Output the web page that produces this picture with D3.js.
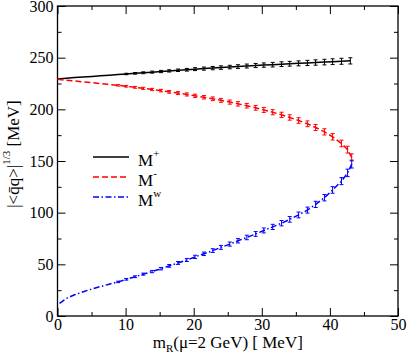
<!DOCTYPE html>
<html lang="en">
<head>
<meta charset="utf-8">
<title>condensate</title>
<style>
  body { margin: 0; background: #fff; }
  text { font-family: "Liberation Serif", "Times New Roman", serif; }
</style>
<script src="https://d3js.org/d3.v7.min.js"></script>
</head>
<body>
<script>
// M+ branch
var xPlus = [0, 1.3, 2.5, 3.8, 5.1, 6.3, 7.6, 8.9, 10.1, 11.4, 12.6, 13.9, 15.2, 16.4, 17.7, 19.0, 20.2, 21.5, 22.8, 24.0, 25.3, 26.5, 27.8, 29.1, 30.3, 31.6, 32.9, 34.1, 35.4, 36.7, 37.9, 39.2, 40.4, 41.7, 43.0];
var yPlus = [229.4, 230.1, 230.7, 231.3, 231.8, 232.4, 233.0, 233.6, 234.2, 234.8, 235.4, 236.0, 236.6, 237.2, 237.8, 238.3, 238.9, 239.4, 239.9, 240.4, 240.9, 241.4, 241.9, 242.4, 242.8, 243.2, 243.7, 244.1, 244.5, 244.9, 245.3, 245.7, 246.1, 246.5, 246.9];
var ePlus = [0, 0.1, 0.2, 0.3, 0.4, 0.4, 0.5, 0.6, 0.7, 0.8, 0.9, 1.0, 1.1, 1.1, 1.2, 1.3, 1.4, 1.5, 1.6, 1.7, 1.7, 1.8, 1.9, 2.0, 2.1, 2.2, 2.3, 2.3, 2.4, 2.5, 2.6, 2.7, 2.8, 2.9, 3.0];

// M- branch
var xMinus = [0, 1.3, 2.5, 3.8, 5.1, 6.3, 7.6, 8.9, 10.1, 11.4, 12.6, 13.9, 15.2, 16.4, 17.7, 19.0, 20.2, 21.5, 22.8, 24.0, 25.3, 26.5, 27.8, 29.1, 30.3, 31.6, 32.9, 34.1, 35.4, 36.7, 37.9, 39.2, 40.4, 41.7, 42.6, 43.2];
var yMinus = [229.0, 228.2, 227.4, 226.6, 225.8, 225.0, 224.1, 223.2, 222.3, 221.3, 220.3, 219.2, 218.1, 216.9, 215.7, 214.4, 213.1, 211.7, 210.2, 208.7, 207.0, 205.3, 203.5, 201.5, 199.4, 197.2, 194.7, 192.1, 189.2, 186.0, 182.4, 178.2, 173.4, 167.0, 161.0, 153.5];
var eMinus = [0, 0.1, 0.2, 0.3, 0.4, 0.5, 0.6, 0.7, 0.8, 0.9, 1.0, 1.1, 1.2, 1.3, 1.4, 1.5, 1.6, 1.7, 1.8, 1.9, 2.0, 2.1, 2.2, 2.3, 2.4, 2.5, 2.5, 2.6, 2.7, 2.8, 2.9, 3.0, 3.1, 3.2, 3.3, 3.4];

// Mw branch
var xW = [0.3, 1.3, 2.5, 3.8, 5.1, 6.3, 7.6, 8.9, 10.1, 11.4, 12.6, 13.9, 15.2, 16.4, 17.7, 19.0, 20.2, 21.5, 22.8, 24.0, 25.3, 26.5, 27.8, 29.1, 30.3, 31.6, 32.9, 34.1, 35.4, 36.7, 37.9, 39.2, 40.4, 41.7, 42.6, 43.2];
var yW = [12.3, 17.0, 20.5, 23.5, 26.3, 28.5, 30.8, 33.0, 35.5, 38.0, 40.5, 43.0, 45.8, 48.5, 51.3, 54.2, 57.2, 60.2, 63.3, 66.4, 69.6, 72.8, 76.0, 79.4, 82.8, 86.2, 89.8, 93.5, 97.8, 102.5, 108.0, 114.5, 122.0, 130.5, 138.5, 147.0];
var eW = [0, 0.1, 0.2, 0.3, 0.4, 0.5, 0.6, 0.7, 0.8, 0.9, 1.0, 1.1, 1.2, 1.3, 1.4, 1.5, 1.6, 1.7, 1.8, 1.9, 2.0, 2.1, 2.2, 2.3, 2.4, 2.5, 2.6, 2.7, 2.8, 2.9, 3.0, 3.1, 3.2, 3.4, 3.6, 3.8];

var xMajor = [0, 10, 20, 30, 40, 50];
var xMinor = [5, 15, 25, 35, 45];
var yMajor = [0, 50, 100, 150, 200, 250, 300];
var yMinor = [25, 75, 125, 175, 225, 275];

var w = 407, h = 357;
var pLeft = 57.5, pRight = 398, pTop = 6, pBottom = 316;

var svg = d3.select("body").append("svg")
    .attr("width", w)
    .attr("height", h);

var x = d3.scaleLinear().domain([0, 50]).range([pLeft, pRight]);
var y = d3.scaleLinear().domain([0, 300]).range([pBottom, pTop]);

function styleAxis(g) {
    g.attr("font-family", "Liberation Serif").attr("font-size", 16);
    g.select(".domain").remove();
    g.selectAll("line").attr("stroke", "#000").attr("stroke-width", 1);
    g.selectAll("text").attr("fill", "#000");
}

// inward ticks on all four sides
svg.append("g").attr("transform", "translate(0," + pBottom + ")")
    .call(d3.axisBottom(x).tickValues(xMajor).tickSizeInner(-8).tickPadding(3).tickFormat(d3.format("d")))
    .call(styleAxis);
svg.append("g").attr("transform", "translate(0," + pBottom + ")")
    .call(d3.axisBottom(x).tickValues(xMinor).tickSizeInner(-4).tickFormat(""))
    .call(styleAxis);
svg.append("g").attr("transform", "translate(0," + pTop + ")")
    .call(d3.axisTop(x).tickValues(xMajor).tickSizeInner(-8).tickFormat(""))
    .call(styleAxis);
svg.append("g").attr("transform", "translate(0," + pTop + ")")
    .call(d3.axisTop(x).tickValues(xMinor).tickSizeInner(-4).tickFormat(""))
    .call(styleAxis);
svg.append("g").attr("transform", "translate(" + pLeft + ",0)")
    .call(d3.axisLeft(y).tickValues(yMajor).tickSizeInner(-8).tickPadding(4).tickFormat(d3.format("d")))
    .call(styleAxis);
svg.append("g").attr("transform", "translate(" + pLeft + ",0)")
    .call(d3.axisLeft(y).tickValues(yMinor).tickSizeInner(-4).tickFormat(""))
    .call(styleAxis);
svg.append("g").attr("transform", "translate(" + pRight + ",0)")
    .call(d3.axisRight(y).tickValues(yMajor).tickSizeInner(-8).tickFormat(""))
    .call(styleAxis);
svg.append("g").attr("transform", "translate(" + pRight + ",0)")
    .call(d3.axisRight(y).tickValues(yMinor).tickSizeInner(-4).tickFormat(""))
    .call(styleAxis);

svg.append("rect")
    .attr("x", pLeft).attr("y", pTop)
    .attr("width", pRight - pLeft).attr("height", pBottom - pTop)
    .attr("fill", "none").attr("stroke", "#000").attr("stroke-width", 1.3);

var series = [
    { xs: xPlus, ys: yPlus, es: ePlus, color: "#000", dash: null, width: 1.5 },
    { xs: xMinus, ys: yMinus, es: eMinus, color: "#ff0000", dash: "6,3", width: 1.5 },
    { xs: xW, ys: yW, es: eW, color: "#0000ff", dash: "6,2.5,1.5,2.5", width: 1.5 }
];

var line = d3.line().x(d => x(d[0])).y(d => y(d[1]));

series.forEach(function (s) {
    var pts = s.xs.map((v, i) => [v, s.ys[i], s.es[i]]);
    svg.append("path")
        .attr("d", line(pts))
        .attr("fill", "none")
        .attr("stroke", s.color)
        .attr("stroke-width", s.width)
        .attr("stroke-dasharray", s.dash);
    var bars = svg.append("g").attr("stroke", s.color).attr("stroke-width", 1);
    pts.filter(d => d[2] > 0.6).forEach(function (d) {
        var cx = x(d[0]);
        bars.append("line").attr("x1", cx).attr("x2", cx)
            .attr("y1", y(d[1] - d[2])).attr("y2", y(d[1] + d[2]));
        bars.append("line").attr("x1", cx - 2).attr("x2", cx + 2)
            .attr("y1", y(d[1] - d[2])).attr("y2", y(d[1] - d[2]));
        bars.append("line").attr("x1", cx - 2).attr("x2", cx + 2)
            .attr("y1", y(d[1] + d[2])).attr("y2", y(d[1] + d[2]));
    });
});

// legend
var legendNames = ["+", "-", "w"];
var legend = svg.append("g");
series.forEach(function (s, i) {
    var ly = 157 + i * 20;
    legend.append("line")
        .attr("x1", 93).attr("x2", 129)
        .attr("y1", ly).attr("y2", ly)
        .attr("stroke", s.color).attr("stroke-width", 1.5)
        .attr("stroke-dasharray", s.dash);
    var t = legend.append("text")
        .attr("x", 138).attr("y", ly + 9)
        .attr("font-size", 17);
    t.append("tspan").text("M");
    t.append("tspan").attr("font-size", 11).attr("dy", -9).text(legendNames[i]);
});

// x axis title
var xt = svg.append("text")
    .attr("x", (pLeft + pRight) / 2).attr("y", 348)
    .attr("text-anchor", "middle")
    .attr("font-size", 17);
xt.append("tspan").text("m");
xt.append("tspan").attr("font-size", 11).attr("dy", 4).text("R");
xt.append("tspan").attr("dy", -4).text("(\u03bc=2 GeV) [ MeV]");

// y axis title
var yt = svg.append("text")
    .attr("transform", "translate(19,154) rotate(-90)")
    .attr("text-anchor", "middle")
    .attr("font-size", 17);
yt.append("tspan").text("|<q\u0304q>|");
yt.append("tspan").attr("font-size", 11).attr("dy", -9).text("1/3");
yt.append("tspan").attr("dy", 9).text(" [MeV]");
</script>
</body>
</html>
